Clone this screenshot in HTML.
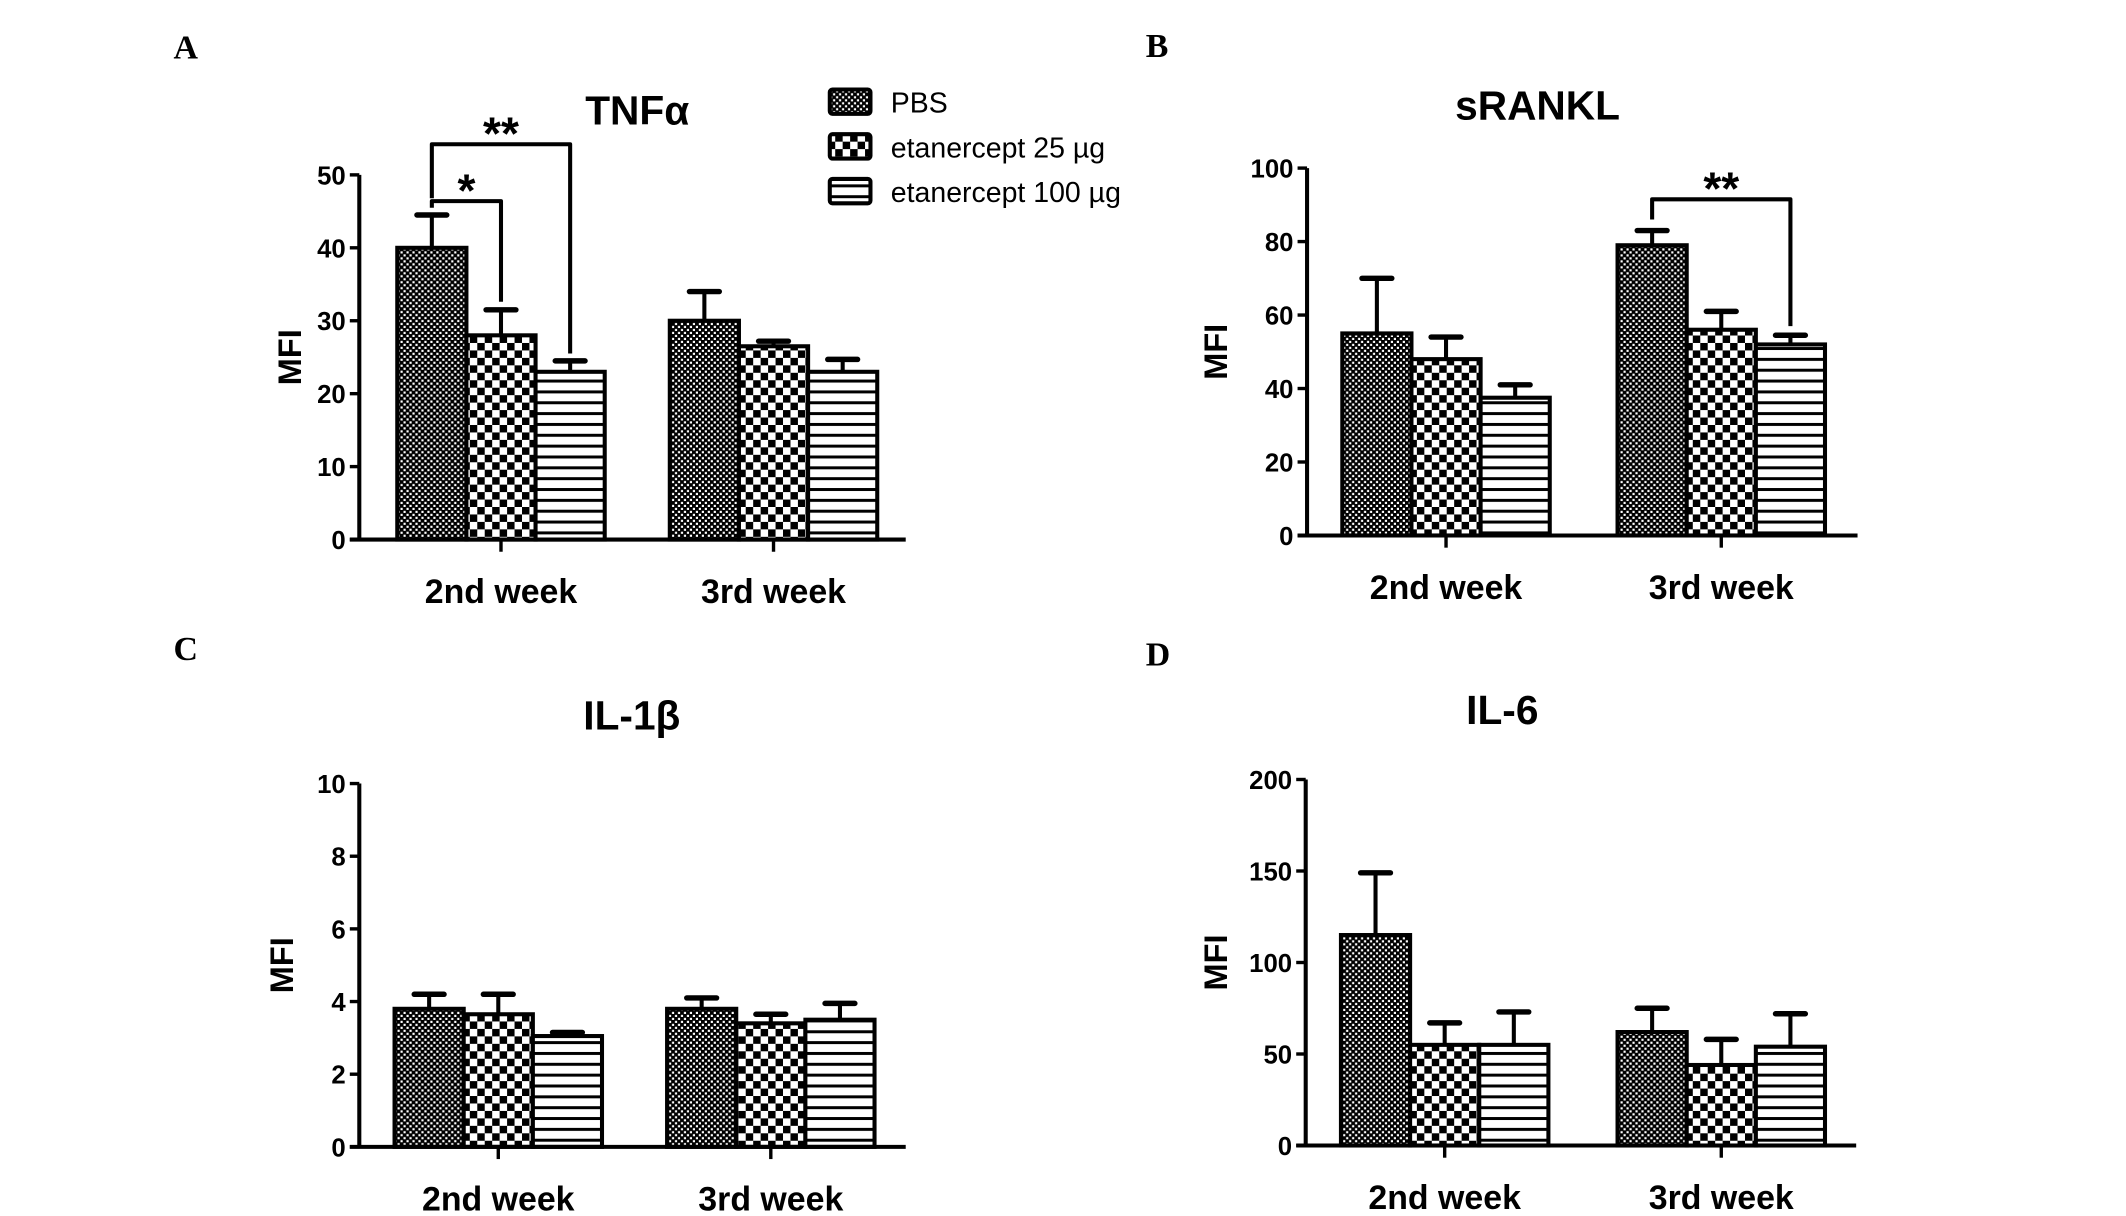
<!DOCTYPE html>
<html><head><meta charset="utf-8"><style>
html,body{margin:0;padding:0;background:#fff;}
svg{display:block;}
text{font-family:"Liberation Sans",sans-serif;}
</style></head><body>
<svg id="fig" width="2126" height="1216" viewBox="0 0 1568 897" preserveAspectRatio="none" xmlns="http://www.w3.org/2000/svg">
<defs>
<pattern id="pDots" width="4.4" height="4.4" patternUnits="userSpaceOnUse"><rect width="4.4" height="4.4" fill="#000"/><rect x="0.6" y="0.6" width="1.6" height="1.6" fill="#fff"/><rect x="2.8" y="2.8" width="1.6" height="1.6" fill="#fff"/></pattern>
<pattern id="pCheck" width="11" height="11" patternUnits="userSpaceOnUse"><rect width="11" height="11" fill="#fff"/><rect width="5.5" height="5.5" fill="#000"/><rect x="5.5" y="5.5" width="5.5" height="5.5" fill="#000"/></pattern>
<pattern id="pLines" width="8" height="8" patternUnits="userSpaceOnUse"><rect width="8" height="8" fill="#fff"/><rect y="0" width="8" height="2.2" fill="#000"/></pattern>
</defs>
</svg>
<script>
const groups = ["2nd week","3rd week"];
const seriesNames = ["PBS","etanercept 25 µg","etanercept 100 µg"];
const tnfMean = [[40,28,23],[30,26.5,23]];
const tnfErr = [[44.5,31.5,24.5],[34,27.2,24.7]];
const tnfTicks = [0,10,20,30,40,50];
const rankMean = [[55,48,37.5],[79,56,52]];
const rankErr = [[70,54,41],[83,61,54.5]];
const rankTicks = [0,20,40,60,80,100];
const il1Mean = [[3.8,3.65,3.05],[3.8,3.4,3.5]];
const il1Err = [[4.2,4.2,3.15],[4.1,3.65,3.95]];
const il1Ticks = [0,2,4,6,8,10];
const il6Mean = [[115,55,55],[62,44,54]];
const il6Err = [[149,67,73],[75,58,72]];
const il6Ticks = [0,50,100,150,200];

const svg = document.getElementById('fig');
const NS = 'http://www.w3.org/2000/svg';
const fills = ['url(#pDots)','url(#pCheck)','url(#pLines)'];
function mk(tag, attrs, parent){const e=document.createElementNS(NS,tag);for(const k in attrs)e.setAttribute(k,attrs[k]);(parent||svg).appendChild(e);return e;}
function txt(s, attrs, parent){const e=mk('text',attrs,parent);e.textContent=s;return e;}

function panel(cfg){
  const g = mk('g',{});
  
  
  const x0=cfg.ax, y0=cfg.y0, yTop=cfg.yTop, maxV=cfg.ticks[cfg.ticks.length-1];
  const yS = v => y0 - (v/maxV)*(y0-yTop);
  const bw = cfg.bw;
  const gStart = i => cfg.g0 + i*cfg.gStep;
  const L = txt(cfg.letter,{x:cfg.lx,y:cfg.ly,style:'font-family:"Liberation Serif",serif;font-weight:bold;font-size:25px'},g);
  
  
  const T = txt(cfg.title,{x:cfg.tx,y:cfg.ty,'text-anchor':'middle','font-weight':'bold','font-size':30},g);
  
  
  const M = txt('MFI',{x:0,y:0,'text-anchor':'middle','font-weight':'bold','font-size':24,transform:`translate(${cfg.mx},${(y0+yTop)/2}) rotate(-90)`},g);
  
  
  for(let i=0;i<groups.length;i++){
    for(let s=0;s<3;s++){
      const m=cfg.mean[i][s], e=cfg.err[i][s];
      const bx=gStart(i)+s*bw, cx=bx+bw/2;
      const eb=mk('g',{},g);
      
      
      mk('line',{x1:cx,x2:cx,y1:yS(m),y2:yS(e),stroke:'#000','stroke-width':3},eb);
      mk('line',{x1:cx-11,x2:cx+11,y1:yS(e),y2:yS(e),stroke:'#000','stroke-width':4,'stroke-linecap':'round'},eb);
      const r=mk('rect',{x:bx,y:yS(m),width:bw,height:y0-yS(m),fill:fills[s],stroke:'#000','stroke-width':3},g);
      
      
    }
    const gc=gStart(i)+1.5*bw;
    mk('line',{x1:gc,x2:gc,y1:y0,y2:y0+9,stroke:'#000','stroke-width':2.5},g);
    const gl=txt(groups[i],{x:gc,y:y0+47,'text-anchor':'middle','font-weight':'bold','font-size':25},g);
    
    
  }
  const ya=mk('line',{x1:x0,x2:x0,y1:y0,y2:yTop,stroke:'#000','stroke-width':3},g);
  
  
  const xa=mk('line',{x1:x0-7,x2:cfg.xEnd,y1:y0,y2:y0,stroke:'#000','stroke-width':3},g);
  
  
  cfg.ticks.forEach(t=>{
    mk('line',{x1:x0-7,x2:x0,y1:yS(t),y2:yS(t),stroke:'#000','stroke-width':2.5},g);
    const tl=txt(String(t),{x:x0-10,y:yS(t)+7,'text-anchor':'end','font-weight':'bold','font-size':19},g);
    
    
  });
  (cfg.sig||[]).forEach(sg=>{
    const xa1=gStart(sg.g)+(sg.a+0.5)*bw, xb=gStart(sg.g)+(sg.b+0.5)*bw;
    const yb=yS(sg.level);
    const p=mk('path',{d:`M${xa1},${yS(sg.ya)} L${xa1},${yb} L${xb},${yb} L${xb},${yS(sg.yb)}`,fill:'none',stroke:'#000','stroke-width':3,'stroke-linejoin':'round'},g);
    
    
    const st=txt(sg.label,{x:(xa1+xb)/2,y:yb+4,'text-anchor':'middle','font-weight':'bold','font-size':34},g);
    
    
  });
}

panel({name:'tnf-alpha-chart',letter:'A',lx:128,ly:43,title:'TNFα',tx:470,ty:92,mx:222,
  ax:265,y0:398,yTop:129,xEnd:668,g0:293,gStep:201,bw:51,ticks:tnfTicks,mean:tnfMean,err:tnfErr,
  sig:[{g:0,a:0,b:1,level:46.4,ya:45.5,yb:32.6,label:'*'},{g:0,a:0,b:2,level:54.2,ya:46.8,yb:25.5,label:'**'}]});
panel({name:'srankl-chart',letter:'B',lx:845,ly:42,title:'sRANKL',tx:1134,ty:88,mx:905,
  ax:964,y0:395,yTop:124,xEnd:1370,g0:990,gStep:203,bw:51,ticks:rankTicks,mean:rankMean,err:rankErr,
  sig:[{g:1,a:0,b:2,level:91.5,ya:86,yb:57,label:'**'}]});
panel({name:'il-1beta-chart',letter:'C',lx:128,ly:487,title:'IL-1β',tx:466,ty:538,mx:216,
  ax:265,y0:846,yTop:578,xEnd:668,g0:291,gStep:201,bw:51,ticks:il1Ticks,mean:il1Mean,err:il1Err});
panel({name:'il-6-chart',letter:'D',lx:845,ly:491,title:'IL-6',tx:1108,ty:534,mx:905,
  ax:963,y0:845,yTop:575,xEnd:1369,g0:989,gStep:204,bw:51,ticks:il6Ticks,mean:il6Mean,err:il6Err});

const lg = mk('g',{});


seriesNames.forEach((n,i)=>{
  const y=66+i*33;
  const e=mk('g',{},lg);
  
  
  mk('rect',{x:612,y:y,width:30,height:18,fill:fills[i],stroke:'#000','stroke-width':3,rx:2},e);
  txt(n,{x:657,y:y+17,'font-size':21},e);
});
</script>
</body></html>
